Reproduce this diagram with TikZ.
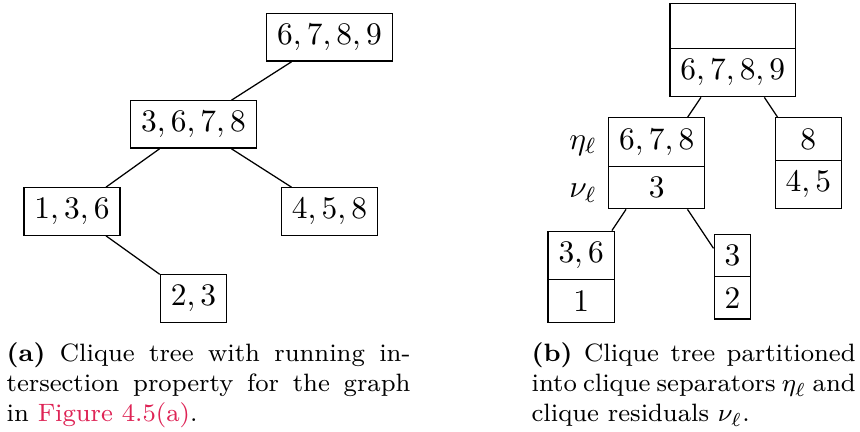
\documentclass[tikz,border=0pt]{standalone}
\usetikzlibrary{shapes.multipart}
\definecolor{linkred}{RGB}{222,35,85}
\begin{document}
\begin{tikzpicture}[x=0.31847pt, y=-0.31847pt,
  clique/.style={draw, rectangle, line width=0.4pt, inner sep=3.333pt,
    font=\fontsize{10}{12}\selectfont},
  splitclique/.style={clique, rectangle split, rectangle split parts=2,
    rectangle split ignore empty parts=false,
    rectangle split empty part height=7.25pt},
  sidelabel/.style={anchor=base east, inner sep=3.333pt,
    font=\fontsize{10}{12}\selectfont},
  treeedge/.style={line width=0.4pt},
  caption/.style={anchor=base west, inner sep=0pt,
    font=\fontsize{8}{9.5}\selectfont}]
\useasboundingbox (0,0) rectangle (860,432);

% (a) clique tree with the running intersection property
\node[clique] (a6789) at (329.5,37.5)  {$6,7,8,9$};
\node[clique] (a3678) at (193.5,124.5) {$3,6,7,8$};
\node[clique] (a136)  at (72,211.5)    {$1,3,6$};
\node[clique] (a458)  at (329.5,211.5) {$4,5,8$};
\node[clique] (a23)   at (193.5,298.5) {$2,3$};
\draw[treeedge] (a6789) -- (a3678);
\draw[treeedge] (a3678) -- (a136);
\draw[treeedge] (a3678) -- (a458);
\draw[treeedge] (a136)  -- (a23);

% (b) separators (upper part) and residuals (lower part)
\node[splitclique] (b6789) at (732.8,50)    {\nodepart{two}$6,7,8,9$};
\node[splitclique] (b3678) at (656.7,163.3) {$6,7,8$\nodepart{two}$3$};
\node[splitclique] (b458)  at (808.3,163.3) {$8$\nodepart{two}$4,5$};
\node[splitclique] (b136)  at (581.2,276.7) {$3,6$\nodepart{two}$1$};
\node[splitclique] (b23)   at (732.5,276.7) {$3$\nodepart{two}$2$};
\draw[treeedge] (b6789) -- (b3678);
\draw[treeedge] (b6789) -- (b458);
\draw[treeedge] (b3678) -- (b136);
\draw[treeedge] (b3678) -- (b23);
\node[sidelabel] (eta) at (b3678.west |- b3678.text) {$\eta_\ell$};
\node[sidelabel] (nu)  at (b3678.west |- b3678.two)  {$\nu_\ell$};

% sub-captions
\node[caption] (capa) at (6,362) {\parbox[t]{128.6pt}{\textbf{(a)}
  Clique tree with running in-\linebreak
  tersection property for the graph\linebreak
  in \textcolor{linkred}{Figure 4.5(a)}.}};
\node[caption] (capb) at (531,362) {\parbox[t]{103.2pt}{\textbf{(b)}
  Clique tree partitioned\linebreak
  into clique separators $\eta_\ell$ and\linebreak
  clique residuals $\nu_\ell$.}};
\end{tikzpicture}
\end{document}
